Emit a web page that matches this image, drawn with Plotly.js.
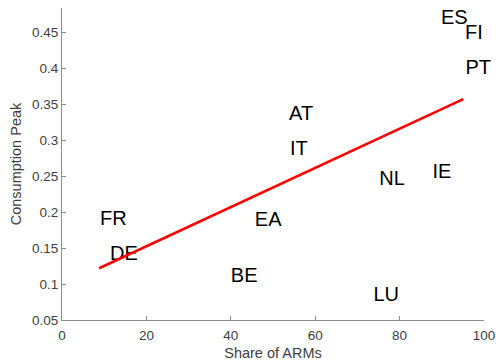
<!DOCTYPE html>
<html>
<head>
<meta charset="utf-8">
<script src="https://cdn.plot.ly/plotly-3.0.1.min.js"></script>
<style>html,body{margin:0;padding:0;background:#fff;}#chart{width:496px;height:361px;}</style>
</head>
<body>
<div id="chart"></div>
<script>
const countries = ["FR","DE","AT","IT","EA","BE","LU","NL","IE","PT","ES","FI"];
const armShare = [9.0, 11.4, 53.8, 54.0, 45.7, 40.0, 73.8, 75.2, 87.8, 95.6, 89.8, 95.5];
const consumptionPeak = [0.189, 0.141, 0.335, 0.287, 0.188, 0.110, 0.083, 0.245, 0.254, 0.399, 0.469, 0.447];
const fitX = [8.8, 95.1];
const fitY = [0.122, 0.357];
const xTicks = [0, 20, 40, 60, 80, 100];
const yTicks = [0.05, 0.1, 0.15, 0.2, 0.25, 0.3, 0.35, 0.4, 0.45];

const traces = [
  {
    x: armShare, y: consumptionPeak, text: countries,
    type: "scatter", mode: "text", textposition: "middle right",
    textfont: {family: "Arial, Liberation Sans, sans-serif", size: 20, color: "#000"},
    hoverinfo: "none", showlegend: false, cliponaxis: false
  },
  {
    x: fitX, y: fitY, type: "scatter", mode: "lines",
    line: {color: "#ff0000", width: 2.6}, showlegend: false, hoverinfo: "none"
  }
];

const axisFont = {family: "Arial, Liberation Sans, sans-serif", size: 13.5, color: "#404040"};
const layout = {
  width: 496, height: 361,
  margin: {l: 62, r: 12, t: 8, b: 41, pad: 0},
  paper_bgcolor: "#fff", plot_bgcolor: "#fff",
  showlegend: false,
  xaxis: {
    range: [0, 100], tickvals: xTicks, ticktext: xTicks.map(String),
    showgrid: false, zeroline: false, showline: true, linecolor: "#8c8c8c", linewidth: 1,
    ticks: "inside", ticklen: 4, tickcolor: "#8c8c8c",
    tickfont: axisFont, ticklabelstandoff: 3,
    title: {text: "Share of ARMs", font: {family: "Arial, Liberation Sans, sans-serif", size: 14.5, color: "#404040"}, standoff: 9}
  },
  yaxis: {
    range: [0.05, 0.4837], tickvals: yTicks, ticktext: yTicks.map(String),
    showgrid: false, zeroline: false, showline: true, linecolor: "#8c8c8c", linewidth: 1,
    ticks: "inside", ticklen: 4, tickcolor: "#8c8c8c",
    tickfont: axisFont,
    title: {text: "Consumption Peak", font: {family: "Arial, Liberation Sans, sans-serif", size: 14.5, color: "#404040"}, standoff: 6}
  }
};

Plotly.newPlot("chart", traces, layout, {displayModeBar: false, staticPlot: true});
</script>
</body>
</html>
